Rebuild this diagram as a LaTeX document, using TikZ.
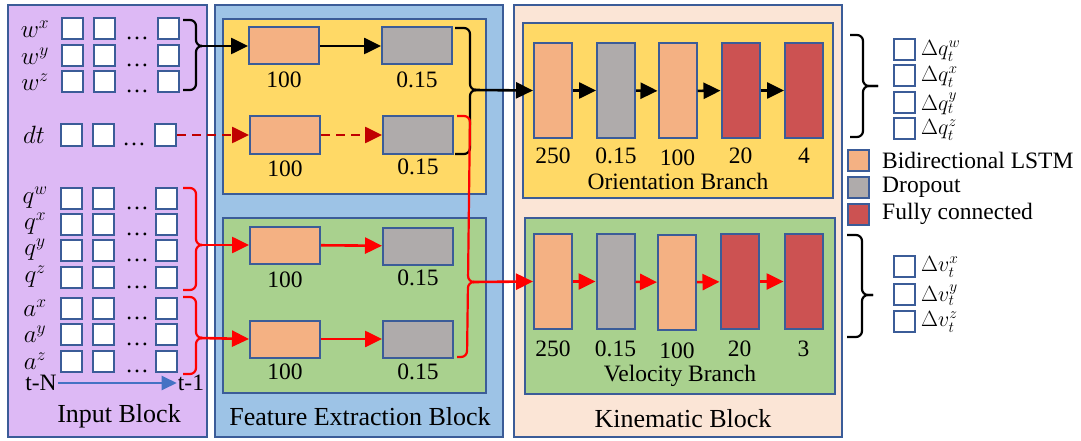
\RequirePackage{fix-cm}
\documentclass[tikz,border=0pt]{standalone}
\usepackage{fontspec}
\setmainfont{Liberation Serif}
\usetikzlibrary{arrows.meta,calc}
\definecolor{bord}{HTML}{3B5C98}
\definecolor{purp}{HTML}{DDB9F5}
\definecolor{lblue}{HTML}{9DC3E6}
\definecolor{yel}{HTML}{FFD966}
\definecolor{grn}{HTML}{A9D18E}
\definecolor{peach}{HTML}{FBE5D6}
\definecolor{lstmc}{HTML}{F4B183}
\definecolor{dropc}{HTML}{AFABAB}
\definecolor{fcc}{HTML}{CC5252}
\definecolor{dred}{HTML}{C00000}
\definecolor{tblue}{HTML}{4472C4}
\newcommand\fsn{\fontsize{23.5}{28}\selectfont}
\newcommand\fsm{\fontsize{25}{28}\selectfont}
\newcommand\fso{\fontsize{22}{24}\selectfont}
\newcommand\fst{\fontsize{26}{30}\selectfont}
\begin{document}
\begin{tikzpicture}[x=1pt,y=-1pt,
  blk/.style={draw=bord, line width=2pt},
  cell/.style={draw=bord, line width=2pt, fill=white, minimum width=21pt, minimum height=21pt, inner sep=0pt},
  hbox/.style={draw=bord, line width=2pt, minimum width=70pt, minimum height=37pt, inner sep=0pt},
  vbox/.style={draw=bord, line width=2pt, minimum width=38pt, minimum height=95pt, inner sep=0pt},
  lstm/.style={fill=lstmc}, drop/.style={fill=dropc}, fc/.style={fill=fcc},
  lbl/.style={font=\fsn, inner sep=0pt},
  mlbl/.style={font=\fsm, inner sep=0pt},
  olbl/.style={font=\fso, inner sep=0pt},
  ttl/.style={font=\fst, inner sep=0pt},
  blackarrow/.style={line width=2.6pt, black, -{Triangle[length=17pt,width=16pt]}},
  redarrow/.style={line width=2.6pt, red, -{Triangle[length=17pt,width=16pt]}},
  dasharrow/.style={line width=2.6pt, dred, dash pattern=on 9pt off 6pt, -{Triangle[length=17pt,width=16pt]}},
  bracel/.style={line width=2.2pt, rounded corners=6pt},
]
\useasboundingbox (0,0) rectangle (1081,441);

% blocks
\draw[blk, fill=purp] (8,5) rectangle (207,437);
\draw[blk, fill=lblue] (215,5) rectangle (503,437);
\draw[blk, fill=yel] (223,19) rectangle (486,194);
\draw[blk, fill=grn] (223,218) rectangle (486,393);
\draw[blk, fill=peach] (514,5) rectangle (842,437);
\draw[blk, fill=yel] (523,23) rectangle (833,198);
\draw[blk, fill=grn] (525,218) rectangle (835,394);

% input block rows
\foreach \n/\lab/\y/\xa/\xb/\xc in {wx/w^x/29/72.5/104/168, wy/w^y/56/72.5/104/168, wz/w^z/82/72.5/104/168,
   qw/q^w/198/71.5/103.5/166.5, qx/q^x/224/71.5/103.5/166.5, qy/q^y/250/71.5/103.5/166.5, qz/q^z/277/71.5/103.5/166.5,
   ax/a^x/308/71.5/103.5/166.5, ay/a^y/334/71.5/103.5/166.5, az/a^z/361/71.5/103.5/166.5}{
  \node[mlbl] (l-\n) at (35,\y) {$\lab$};
  \node[cell] (c-\n-1) at (\xa,\y) {};
  \node[cell] (c-\n-2) at (\xb,\y) {};
  \node[cell] (c-\n-3) at (\xc,\y) {};
  \node[lbl, anchor=base] (dots-\n) at (137,\y+11) {…};
}
\node[mlbl] (l-dt) at (34,135) {$dt$};
\node[cell] (c-dt-1) at (71.5,135) {};
\node[cell] (c-dt-2) at (103.5,135) {};
\node[cell] (c-dt-3) at (165.5,135) {};
\node[lbl, anchor=base] (dots-dt) at (134,146) {…};

\node[lbl, inner sep=1pt] (tn) at (41,383) {t-N};
\node[lbl, inner sep=1pt] (t1) at (191,383) {t-1};
\draw[line width=2pt, tblue, -{Triangle[length=15pt,width=14pt]}] (tn) -- (t1);
\node[ttl] (tin) at (119,416) {Input Block};

% input braces
\draw[bracel] (183,20) -- (196,20) -- (196,46) -- (201,46);
\draw[bracel] (201,46) -- (196,46) -- (196,90) -- (183,90);
\coordinate (bw) at (200,46);
\draw[bracel, red] (183,188) -- (196,188) -- (196,245) -- (201,245);
\draw[bracel, red] (201,245) -- (196,245) -- (196,290) -- (183,290);
\coordinate (bq) at (200,245);
\draw[bracel, red] (183,297) -- (196,297) -- (196,338) -- (201,338);
\draw[bracel, red] (201,338) -- (196,338) -- (196,374) -- (183,374);
\coordinate (ba) at (200,338);

% feature extraction nodes
\node[hbox, lstm] (f1) at (284,46) {};
\node[hbox, drop] (d1) at (417,46) {};
\node[lbl] at (284,80) {100};
\node[lbl] at (417,80) {0.15};
\node[hbox, lstm] (f2) at (285,135) {};
\node[hbox, drop] (d2) at (418,135) {};
\node[lbl] at (285,169) {100};
\node[lbl] at (418,167) {0.15};
\node[hbox, lstm] (f3) at (285,245) {};
\node[hbox, drop] (d3) at (418,246) {};
\node[lbl] at (285,280) {100};
\node[lbl] at (418,278) {0.15};
\node[hbox, lstm] (f4) at (285,339) {};
\node[hbox, drop] (d4) at (418,339) {};
\node[lbl] at (285,372) {100};
\node[lbl] at (418,372) {0.15};
\node[ttl] (tfe) at (360,417) {Feature Extraction Block};

\draw[blackarrow] (bw) -- (f1.west);
\draw[blackarrow] (f1) -- (d1);
\draw[dasharrow] (c-dt-3.east) -- (f2.west);
\draw[dasharrow] (f2) -- (d2);
\draw[redarrow] (bq) -- (f3.west);
\draw[redarrow] (f3) -- (d3);
\draw[redarrow] (ba) -- (f4.west);
\draw[redarrow] (f4) -- (d4);

% feature braces
\draw[bracel] (455,28) -- (470,28) -- (470,90) -- (475,90);
\draw[bracel] (475,90) -- (470,90) -- (470,154) -- (455,154);
\coordinate (fb) at (474,90);
\draw[bracel, red] (457,116) -- (470,116) -- (468,282) -- (474,282);
\draw[bracel, red] (474,282) -- (468,282) -- (467,357) -- (457,357);
\coordinate (fr) at (473,282);

% kinematic: orientation
\node[vbox, lstm] (o1) at (553,90.5) {};
\node[vbox, drop] (o2) at (616,90.5) {};
\node[vbox, lstm] (o3) at (677.5,91) {};
\node[vbox, fc] (o4) at (740.5,90.5) {};
\node[vbox, fc] (o5) at (804,90.5) {};
\node[lbl] at (553,156) {250};
\node[lbl] at (616,156) {0.15};
\node[lbl] at (677.5,158) {100};
\node[lbl] at (740.5,156) {20};
\node[lbl] at (804,156) {4};
\node[lbl] (tob) at (678,181) {Orientation Branch};
\draw[blackarrow] (fb) -- (o1.west);
\draw[blackarrow] (o1) -- (o2);
\draw[blackarrow] (o2) -- (o3);
\draw[blackarrow] (o3) -- (o4);
\draw[blackarrow] (o4) -- (o5);

% kinematic: velocity
\node[vbox, lstm] (v1) at (553,281.5) {};
\node[vbox, drop] (v2) at (615.5,281.5) {};
\node[vbox, lstm] (v3) at (677,282.5) {};
\node[vbox, fc] (v4) at (739.5,281.5) {};
\node[vbox, fc] (v5) at (803.5,281.5) {};
\node[lbl] at (553,349) {250};
\node[lbl] at (615.5,349) {0.15};
\node[lbl] at (677,351) {100};
\node[lbl] at (739.5,349) {20};
\node[lbl] at (803.5,349) {3};
\node[lbl] (tvb) at (680,376) {Velocity Branch};
\draw[redarrow] (fr) -- (v1.west);
\draw[redarrow] (v1) -- (v2);
\draw[redarrow] (v2) -- (v3);
\draw[redarrow] (v3) -- (v4);
\draw[redarrow] (v4) -- (v5);
\node[ttl] (tkb) at (683,419) {Kinematic Block};

% outputs
\draw[bracel] (850,35) -- (863,35) -- (863,86) -- (878,86);
\draw[bracel] (878,86) -- (863,86) -- (863,137) -- (850,137);
\foreach \n/\lab/\y in {qw/w/50, qx/x/76, qy/y/103, qz/z/129}{
  \node[cell] (o-\n) at (904.5,\y) {};
  \node[olbl, anchor=west] (ol-\n) at (921,\y+1) {$\Delta q_t^{\lab}$};
}
\draw[bracel] (847,235) -- (862,235) -- (862,295) -- (873,295);
\draw[bracel] (873,295) -- (862,295) -- (862,337) -- (847,337);
\foreach \n/\lab/\y in {vx/x/266, vy/y/294, vz/z/321}{
  \node[cell] (o-\n) at (904,\y) {};
  \node[olbl, anchor=west] (ol-\n) at (921,\y+1) {$\Delta v_t^{\lab}$};
}

% legend
\node[cell, lstm] (lg1) at (858.5,160) {};
\node[cell, drop] (lg2) at (858.5,187) {};
\node[cell, fc] (lg3) at (858.5,214) {};
\node[lbl, anchor=west] at (882,160) {Bidirectional LSTM};
\node[lbl, anchor=west] at (882,187) {Dropout};
\node[lbl, anchor=west] at (882,214) {Fully connected};
\end{tikzpicture}
\end{document}
